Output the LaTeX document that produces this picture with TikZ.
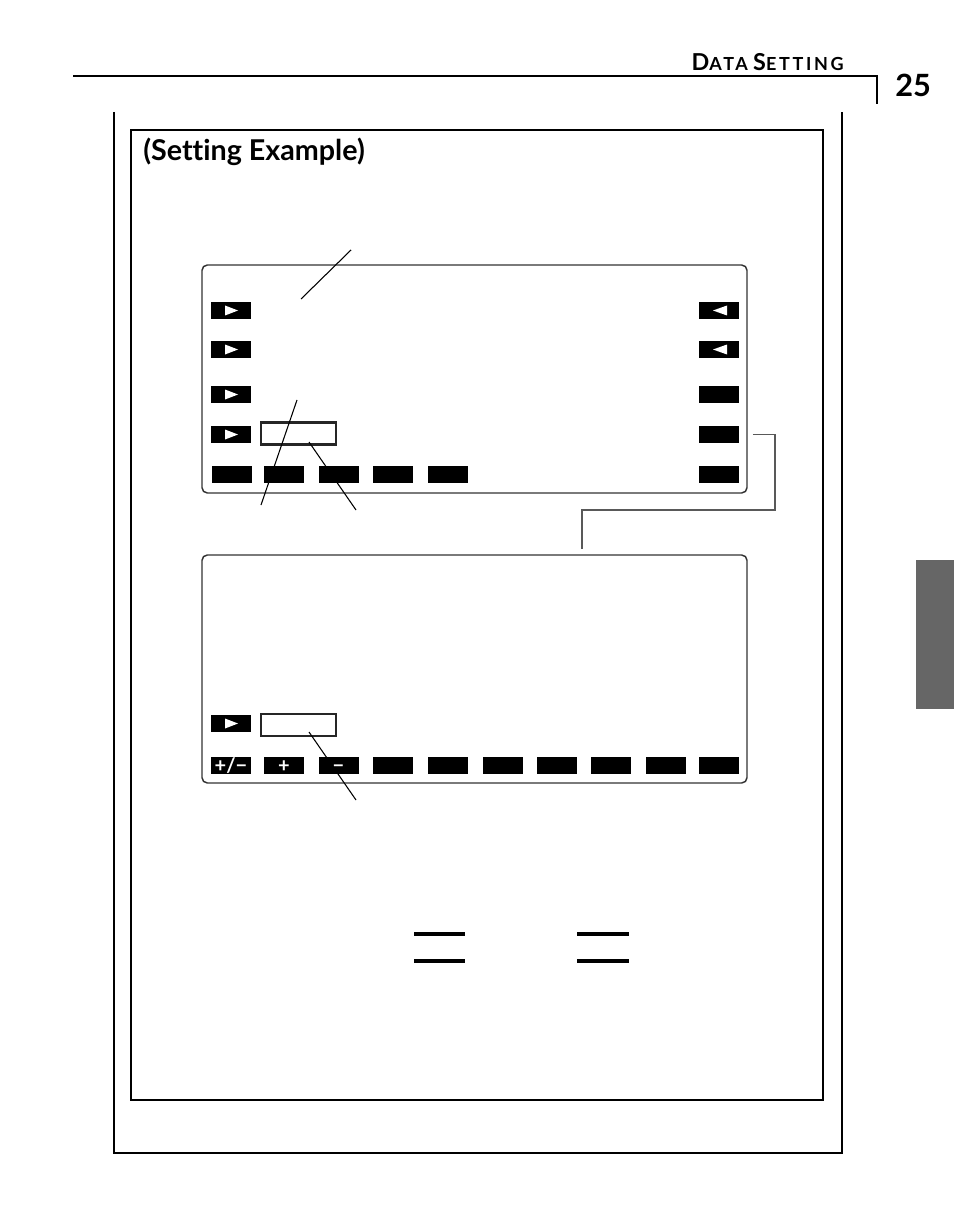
\documentclass[tikz,border=0pt]{standalone}
\usepackage{fontspec}
\setmainfont{Lato}[Ligatures=CommonOff]
\newfontfamily\headfont{Lato}[LetterSpace=15]
\usetikzlibrary{positioning}

\tikzset{
  softkey/.style={fill=black, inner sep=0pt, minimum width=30pt, minimum height=12.6pt, text=white, text height=11pt, text depth=0pt, font=\bfseries\fontsize{15}{15}\selectfont},
  fwdkey/.style={softkey, path picture={\fill[white] ([xshift=-4.5pt,yshift=-3.75pt]path picture bounding box.center) -- ++(9.75pt,3.75pt) -- ++(-9.75pt,3.75pt) -- cycle;}},
  backkey/.style={softkey, path picture={\fill[white] ([xshift=6.4pt,yshift=-3.75pt]path picture bounding box.center) -- ++(-10.5pt,3.75pt) -- ++(10.5pt,3.75pt) -- cycle;}},
  screen/.style={draw=black!80, line width=1.1pt, rounded corners=4pt, inner sep=0pt, minimum width=408.75pt, minimum height=171pt},
  entrybox/.style={draw=black!85, line width=1.6pt, inner sep=0pt, minimum width=56pt, minimum height=16.5pt},
  leader/.style={line width=0.8pt},
  link/.style={draw=black!65, line width=1.1pt},
}

\begin{document}
\begin{tikzpicture}[x=0.75pt, y=-0.75pt]
    \useasboundingbox (0,0) rectangle (954,1230);
    % running head
    \draw[line width=1.6pt] (73,76) -- (877,76) -- (877,104);
    \node[anchor=base east, inner sep=0pt] (runhead) at (844,71) {\headfont\bfseries{\fontsize{17.5}{16}\selectfont D}{\fontsize{13.5}{12}\selectfont ATA} {\fontsize{17.5}{16}\selectfont S}{\fontsize{13.5}{12}\selectfont ETTING}};
    \node[anchor=base west, inner sep=0pt] (pageno) at (895,97) {\bfseries\fontsize{23}{23}\selectfont 25};
    \fill[black!60] (916,560) rectangle (954,709);
    % frames
    \draw[line width=2.2pt] (114,112) -- (114,1153) -- (842,1153) -- (842,112);
    \draw[line width=2.2pt] (131,130) rectangle (823,1100);
    \node[anchor=base west, inner sep=0pt] (example) at (143,161) {\bfseries\fontsize{21.5}{21.5}\selectfont (Setting Example)};
    % first screen
    \node[screen] (scr1) at (474.5,379) {};
    \draw (231,310.5) node[fwdkey] (lk1) {} (231,349.5) node[fwdkey] (lk2) {}
          (231,394.5) node[fwdkey] (lk3) {} (231,434.5) node[fwdkey] (lk4) {};
    \draw (718.5,310.5) node[backkey] (rk1) {} (718.5,349.5) node[backkey] (rk2) {}
          (718.5,394.5) node[softkey] (rk3) {} (718.5,434.5) node[softkey] (rk4) {};
    \draw (231.5,474.5) node[softkey] (fk1) {} (284,474.5) node[softkey] (fk2) {}
          (338.5,474.5) node[softkey] (fk3) {} (393,474.5) node[softkey] (fk4) {}
          (448,474.5) node[softkey] (fk5) {} (718.5,474.5) node[softkey] (fk6) {};
    \node[entrybox] (entry1) at (298.5,433.5) {};
    \coordinate (tag1) at (351,250); \coordinate (tip1) at (301,299);
    \coordinate (tag2) at (261,505); \coordinate (tip2) at (297,400);
    \coordinate (tag3) at (356,510); \coordinate (tip3) at (309,442);
    \draw[leader] (tag1) -- (tip1);
    \draw[leader] (tag2) -- (tip2);
    \draw[leader] (tag3) -- (tip3);
    % second screen
    \node[screen] (scr2) at (474.5,669) {};
    \coordinate (bend) at (582,510);
    \draw[link] ([xshift=10.5pt]rk4.east) -- ++(16.5pt,0) |- (bend) -- ([yshift=3.75pt]bend |- scr2.north);
    \draw (231,723.5) node[fwdkey] (ek1) {};
    \node[entrybox] (entry2) at (298.5,725) {};
    \draw (231,765.5) node[softkey] (nk1) {+/−} (284,765.5) node[softkey] (nk2) {+}
          (338.5,765.5) node[softkey] (nk3) {−} (393,765.5) node[softkey] (nk4) {}
          (448,765.5) node[softkey] (nk5) {} (502.5,765.5) node[softkey] (nk6) {}
          (557,765.5) node[softkey] (nk7) {} (611,765.5) node[softkey] (nk8) {}
          (666,765.5) node[softkey] (nk9) {} (718.5,765.5) node[softkey] (nk10) {};
    \coordinate (tag4) at (356,800); \coordinate (tip4) at (309,732);
    \draw[leader] (tag4) -- (tip4);
    % rules
    \draw[line width=2.3pt] (414,934) -- (465,934) (414,961) -- (465,961)
          (577,934) -- (629,934) (577,961) -- (629,961);
\end{tikzpicture}
\end{document}
